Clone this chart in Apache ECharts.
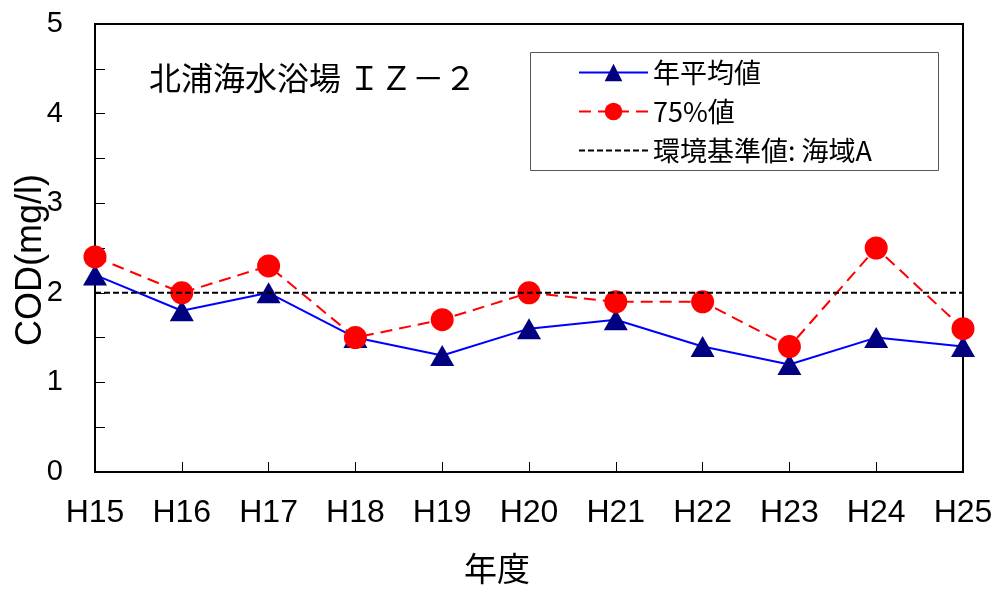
<!DOCTYPE html>
<html>
<head>
<meta charset="utf-8">
<script src="https://cdn.jsdelivr.net/npm/echarts@6/dist/echarts.min.js"></script>
<style>
  html, body { margin: 0; padding: 0; background: #fff; }
  #chart { width: 1000px; height: 601px; }
</style>
</head>
<body>
<div id="chart"></div>
<script>
// Fiscal years (Heisei era)
var years = ['H15', 'H16', 'H17', 'H18', 'H19', 'H20', 'H21', 'H22', 'H23', 'H24', 'H25'];
// Annual mean COD (mg/l)
var annualMean = [2.2, 1.8, 2.0, 1.5, 1.3, 1.6, 1.7, 1.4, 1.2, 1.5, 1.4];
// 75th percentile COD (mg/l)
var pct75 = [2.4, 2.0, 2.3, 1.5, 1.7, 2.0, 1.9, 1.9, 1.4, 2.5, 1.6];
// Environmental standard, sea area A (mg/l)
var standardA = [2, 2, 2, 2, 2, 2, 2, 2, 2, 2, 2];
var yTicks = [0, 1, 2, 3, 4, 5];
var yAxisTitle = 'COD(mg/l)';

var FONT = "'Liberation Sans', 'Noto Sans CJK JP', sans-serif";
var JP = "'Noto Sans CJK JP', sans-serif";

var chart = echarts.init(document.getElementById('chart'), null, { renderer: 'canvas' });

chart.setOption({
  backgroundColor: '#fff',
  animation: false,
  textStyle: { fontFamily: FONT, color: '#000' },
  title: {
    text: '北浦海水浴場 ＩＺ－２',
    left: 144,
    top: 57,
    textStyle: { fontFamily: JP, fontSize: 32, fontWeight: 'normal', color: '#000' }
  },
  graphic: [
    {
      // legend frame
      type: 'rect',
      shape: { x: 530.5, y: 52.5, width: 408, height: 118 },
      style: { fill: '#fff', stroke: '#555', lineWidth: 1 },
      z: 5
    },
    {
      // vertical y-axis title
      type: 'text',
      x: 31,
      y: 260,
      rotation: Math.PI / 2,
      style: {
        text: yAxisTitle,
        font: "36px 'Liberation Sans', sans-serif",
        fill: '#000',
        textAlign: 'center',
        textVerticalAlign: 'middle'
      },
      z: 1
    }
  ],
  legend: {
    orient: 'vertical',
    left: 573,
    top: 54,
    itemWidth: 69,
    itemHeight: 22,
    itemGap: 12,
    itemTextGap: 7,
    z: 10,
    textStyle: { fontFamily: JP, fontSize: 27, color: '#000' },
    data: [
      '年平均値',
      '75%値',
      { name: '環境基準値: 海域A', itemStyle: { color: 'rgba(0,0,0,0)', borderWidth: 0 } }
    ]
  },
  grid: {
    left: 95, top: 24, width: 868, height: 448,
    outerBoundsMode: 'none',
    containLabel: false,
    show: true, borderColor: '#000', borderWidth: 2, backgroundColor: 'transparent'
  },
  xAxis: {
    type: 'category',
    data: years,
    boundaryGap: false,
    name: '年度',
    nameLocation: 'middle',
    nameGap: 80,
    nameMoveOverlap: false,
    nameTextStyle: { fontFamily: JP, fontSize: 33, color: '#000', padding: [0, 64, 0, 0] },
    axisLine: { lineStyle: { color: '#000', width: 2 } },
    axisTick: { inside: true, length: 10, lineStyle: { color: '#000', width: 1 } },
    axisLabel: { fontSize: 32, color: '#000', margin: 25, fontFamily: FONT },
    splitLine: { show: false }
  },
  yAxis: {
    type: 'value',
    min: yTicks[0],
    max: yTicks[yTicks.length - 1],
    interval: 1,
    axisLine: { show: true, lineStyle: { color: '#000', width: 2 } },
    axisTick: { show: true, inside: true, length: 10, lineStyle: { color: '#000', width: 1 } },
    minorTick: { show: true, splitNumber: 2, length: 10, lineStyle: { color: '#000', width: 1 } },
    axisLabel: { fontSize: 29, color: '#000', margin: 32, fontFamily: FONT, hideOverlap: false },
    splitLine: { show: false }
  },
  series: [
    {
      name: '年平均値',
      type: 'line',
      data: annualMean,
      symbol: 'triangle',
      symbolSize: [24, 21],
      lineStyle: { color: '#0000FF', width: 2 },
      itemStyle: { color: '#000080' },
      z: 2
    },
    {
      name: '75%値',
      type: 'line',
      data: pct75,
      symbol: 'circle',
      symbolSize: 23,
      lineStyle: { color: '#FF0000', width: 2, type: [12, 7] },
      itemStyle: { color: '#FF0000' },
      z: 3
    },
    {
      name: '環境基準値: 海域A',
      type: 'line',
      data: standardA,
      symbol: 'none',
      lineStyle: { color: '#000', width: 2, type: [6, 3] },
      itemStyle: { color: '#000' },
      z: 4
    }
  ]
});
</script>
</body>
</html>
